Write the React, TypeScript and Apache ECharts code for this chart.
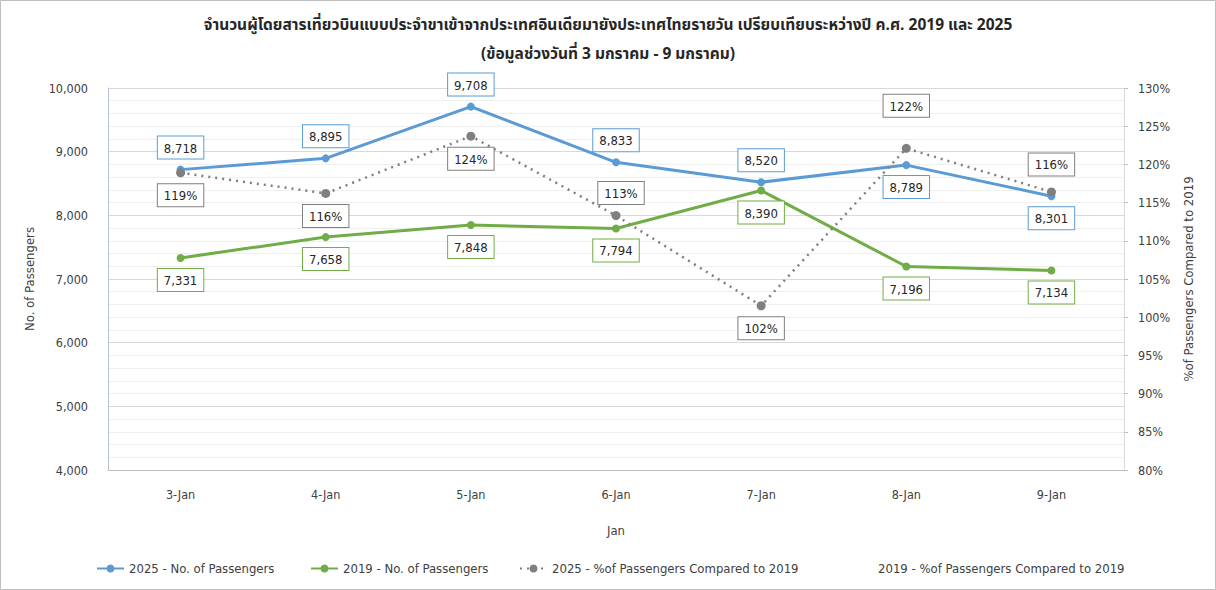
import React, { useEffect, useRef } from "react";
import * as echarts from "echarts";

const categories = ["3-Jan", "4-Jan", "5-Jan", "6-Jan", "7-Jan", "8-Jan", "9-Jan"];
const pax2025 = [8718, 8895, 9708, 8833, 8520, 8789, 8301];
const pax2019 = [7331, 7658, 7848, 7794, 8390, 7196, 7134];
const pct2025 = [118.9, 116.2, 123.7, 113.3, 101.5, 122.1, 116.4];
const pct2019: (number | null)[] = [null, null, null, null, null, null, null];

const seriesNames = [
  "2025 - No. of Passengers",
  "2019 - No. of Passengers",
  "2025 - %of Passengers Compared to 2019",
  "2019 - %of Passengers Compared to 2019",
];

const titleLine1 =
  "จำนวนผู้โดยสารเที่ยวบินแบบประจำขาเข้าจากประเทศอินเดียมายังประเทศไทยรายวัน เปรียบเทียบระหว่างปี ค.ศ. 2019 และ 2025";
const titleLine2 = "(ข้อมูลช่วงวันที่ 3 มกราคม - 9 มกราคม)";

const pax2025Pos = ["top", "top", "top", "top", "top", "bottom", "bottom"];
const pax2019Pos = ["bottom", "bottom", "bottom", "bottom", "bottom", "bottom", "bottom"];
const pct2025Pos = ["bottom", "bottom", "bottom", "top", "bottom", "top", "top"];

const FONT = "'DejaVu Sans Condensed', 'DejaVu Sans', sans-serif";
const THAI_FONT = "Tahoma, 'Noto Sans Thai', 'Noto Sans', 'DejaVu Sans', sans-serif";

const BLUE = "#5b9bd5";
const GREEN = "#70ad47";
const GREY = "#7f7f7f";

const boxLabel = (color: string, fmt: (v: number) => string) => ({
  show: true,
  formatter: (p: any) => fmt(typeof p.value === "object" ? p.value.value : p.value),
  backgroundColor: "#ffffff",
  borderColor: color,
  borderWidth: 1,
  padding: [5, 6, 4, 6],
  color: "#262626",
  fontFamily: FONT,
  fontSize: 13,
  distance: 7,
});

const fmtNum = (v: number) => v.toLocaleString("en-US");
const fmtPct = (v: number) => Math.round(v) + "%";

export default function App() {
  const ref = useRef<HTMLDivElement>(null);

  useEffect(() => {
    if (!ref.current) return;
    const chart = echarts.init(ref.current, undefined, { renderer: "svg" });

    const legendBase = {
      top: 557,
      itemWidth: 27,
      itemHeight: 10,
      itemGap: 5,
      textStyle: { fontFamily: FONT, fontSize: 13, color: "#404040" },
    };

    const option: any = {
      animation: false,
      backgroundColor: "#ffffff",
      title: [
        {
          text: titleLine1,
          left: "center",
          top: 12,
          textStyle: { fontFamily: THAI_FONT, fontSize: 15.5, fontWeight: "bold", color: "#262626" },
        },
        {
          text: titleLine2,
          left: "center",
          top: 41,
          textStyle: { fontFamily: THAI_FONT, fontSize: 15.5, fontWeight: "bold", color: "#262626" },
        },
      ],
      legend: [
        { ...legendBase, left: 91, data: [seriesNames[0]] },
        { ...legendBase, left: 305, data: [seriesNames[1]] },
        { ...legendBase, left: 514, data: [seriesNames[2]] },
        {
          ...legendBase,
          left: 840,
          data: [{ name: seriesNames[3], itemStyle: { opacity: 0 }, lineStyle: { opacity: 0 } }],
        },
      ],
      grid: { left: 108, right: 92, top: 88, bottom: 120 },
      xAxis: {
        type: "category",
        data: categories,
        boundaryGap: true,
        name: "Jan",
        nameLocation: "middle",
        nameGap: 54,
        nameTextStyle: { fontFamily: FONT, fontSize: 13, color: "#404040" },
        axisLine: { lineStyle: { color: "#bfbfbf" } },
        axisTick: { show: false },
        axisLabel: { fontFamily: FONT, fontSize: 12.5, color: "#404040", margin: 18 },
      },
      yAxis: [
        {
          type: "value",
          min: 4000,
          max: 10000,
          interval: 1000,
          name: "No. of Passengers",
          nameLocation: "middle",
          nameRotate: 90,
          nameGap: 72,
          nameTextStyle: { fontFamily: FONT, fontSize: 13, color: "#404040" },
          axisLine: { show: true, lineStyle: { color: "#b4c0d0" } },
          axisTick: { show: false },
          axisLabel: {
            fontFamily: FONT,
            fontSize: 12.5,
            color: "#404040",
            margin: 20,
            formatter: (v: number) => v.toLocaleString("en-US"),
          },
          splitLine: { show: true, lineStyle: { color: "#d9d9d9" } },
          minorTick: { show: false, splitNumber: 5 },
          minorSplitLine: { show: true, lineStyle: { color: "#efefef" } },
        },
        {
          type: "value",
          min: 80,
          max: 130,
          interval: 5,
          position: "right",
          name: "%of Passengers Compared to 2019",
          nameLocation: "middle",
          nameRotate: 90,
          nameGap: 58,
          nameTextStyle: { fontFamily: FONT, fontSize: 13, color: "#404040" },
          axisLine: { show: true, lineStyle: { color: "#d9d9d9" } },
          axisTick: { show: true, length: 4, lineStyle: { color: "#bfbfbf" } },
          axisLabel: {
            fontFamily: FONT,
            fontSize: 12.5,
            color: "#404040",
            margin: 14,
            formatter: "{value}%",
          },
          splitLine: { show: false },
        },
      ],
      series: [
        {
          name: seriesNames[0],
          type: "line",
          yAxisIndex: 0,
          data: pax2025.map((v, i) => ({ value: v, label: { position: pax2025Pos[i] } })),
          symbol: "circle",
          symbolSize: 8,
          itemStyle: { color: BLUE },
          lineStyle: { color: BLUE, width: 3 },
          label: boxLabel(BLUE, fmtNum),
          z: 3,
        },
        {
          name: seriesNames[1],
          type: "line",
          yAxisIndex: 0,
          data: pax2019.map((v, i) => ({ value: v, label: { position: pax2019Pos[i] } })),
          symbol: "circle",
          symbolSize: 8,
          itemStyle: { color: GREEN },
          lineStyle: { color: GREEN, width: 3 },
          label: boxLabel(GREEN, fmtNum),
          z: 3,
        },
        {
          name: seriesNames[2],
          type: "line",
          yAxisIndex: 1,
          data: pct2025.map((v, i) => ({
            value: v,
            label: {
              position: pct2025Pos[i],
              distance: i === 5 ? 27 : i === 6 ? 12 : 7,
              offset: i === 3 ? [5, 0] : [0, 0],
            },
          })),
          symbol: "circle",
          symbolSize: 9,
          itemStyle: { color: GREY },
          lineStyle: { color: GREY, width: 2.5, type: [2, 5] },
          label: boxLabel(GREY, fmtPct),
          z: 4,
        },
        {
          name: seriesNames[3],
          type: "line",
          yAxisIndex: 1,
          data: pct2019,
          symbol: "none",
          itemStyle: { color: "rgba(0,0,0,0)" },
          lineStyle: { opacity: 0 },
        },
      ],
      graphic: [
        {
          type: "rect",
          shape: { x: 0.5, y: 0.5, width: 1215, height: 589 },
          style: { fill: "none", stroke: "#bfbfbf", lineWidth: 1 },
          silent: true,
        },
      ],
    };

    chart.setOption(option);
    return () => chart.dispose();
  }, []);

  return (
    <div
      ref={ref}
      style={{ position: "absolute", left: 0, top: 0, width: 1216, height: 590 }}
    />
  );
}
